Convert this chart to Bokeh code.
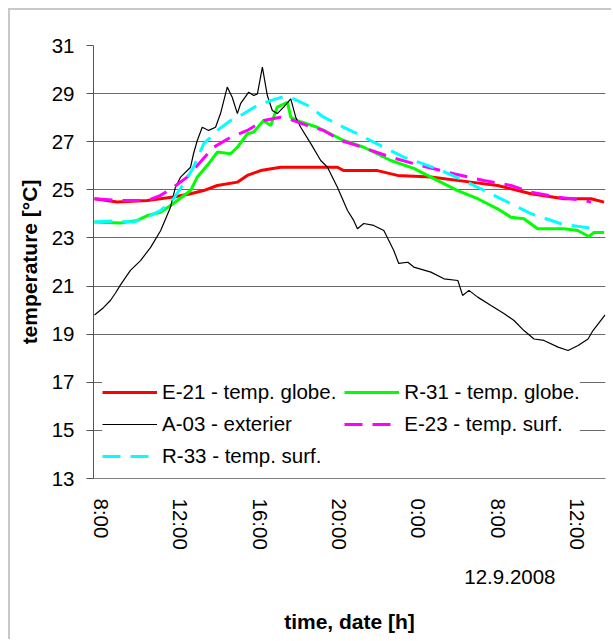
from bokeh.plotting import figure
from bokeh.models import (FixedTicker, Legend, LegendItem, Title, Range1d)
from bokeh.embed import file_html
from bokeh.resources import INLINE

# ---- data (hours since first tick "8:00") ----
tick_pos = [0, 4, 8, 12, 16, 20, 24]
tick_labels = ["8:00", "12:00", "16:00", "20:00", "0:00", "8:00", "12:00"]
y_ticks = [13, 15, 17, 19, 21, 23, 25, 27, 29, 31]

e21_t = [-0.35, 0.79, 2.31, 3.63, 4.49, 5.15, 5.84, 6.85, 7.35, 8.02, 9.03, 11.89,
         12.21, 13.91, 14.92, 16.60, 18.62, 19.96, 21.64, 23.31, 24.67, 25.33]
e21_v = [24.63, 24.49, 24.56, 24.70, 24.84, 24.97, 25.18, 25.32, 25.60, 25.80, 25.94, 25.94,
         25.80, 25.80, 25.60, 25.53, 25.32, 25.18, 24.84, 24.63, 24.63, 24.49]

r31_t = [-0.35, 0.96, 1.80, 2.31, 2.98, 3.63, 4.49, 4.83, 5.33, 5.84, 6.51, 6.85, 7.35,
         7.67, 8.17, 8.53, 8.86, 9.37, 9.54, 9.87, 10.88, 12.21, 13.22, 14.58, 15.74,
         16.60, 17.95, 18.96, 19.96, 20.64, 21.29, 21.98, 23.31, 24.00, 24.57, 24.82, 25.33]
r31_v = [23.66, 23.62, 23.73, 23.93, 24.07, 24.43, 24.97, 25.53, 26.01, 26.57, 26.50, 26.77,
         27.33, 27.40, 27.88, 27.67, 28.44, 28.64, 28.02, 27.88, 27.60, 27.05, 26.77, 26.22,
         25.89, 25.53, 24.97, 24.63, 24.21, 23.86, 23.80, 23.38, 23.38, 23.31, 23.06, 23.23, 23.23]

a03_t = [-0.35, 0.10, 0.45, 0.70, 0.96, 1.46, 1.97, 2.47, 2.98, 3.48, 3.73, 3.99, 4.49,
         4.64, 4.83, 5.08, 5.40, 5.75, 6.00, 6.34, 6.59, 6.85, 7.01, 7.42, 7.67, 7.86,
         8.11, 8.36, 8.61, 8.86, 9.18, 9.54, 9.79, 10.04, 10.55, 11.05, 11.39, 11.89,
         12.40, 12.71, 12.90, 13.22, 13.72, 14.23, 14.73, 14.98, 15.44, 15.74, 16.60,
         17.26, 17.96, 18.20, 18.52, 18.96, 19.63, 20.28, 20.79, 21.29, 21.80, 22.30,
         23.01, 23.51, 24.02, 24.52, 24.77, 25.10, 25.38]
a03_v = [19.80, 20.10, 20.40, 20.70, 21.05, 21.65, 22.06, 22.60, 23.30, 24.28, 25.11, 25.53,
         25.94, 26.50, 27.05, 27.60, 27.47, 27.60, 28.17, 29.27, 28.85, 28.17, 28.58, 29.06,
         28.92, 28.99, 30.10, 28.92, 28.30, 28.17, 28.44, 28.78, 28.02, 27.60, 26.92, 26.22,
         25.94, 25.11, 24.14, 23.73, 23.38, 23.60, 23.52, 23.31, 22.48, 21.94, 21.99, 21.79,
         21.58, 21.30, 21.23, 20.61, 20.82, 20.54, 20.19, 19.86, 19.57, 19.15, 18.80, 18.74,
         18.46, 18.32, 18.53, 18.80, 19.15, 19.50, 19.80]

e23_t = [-0.35, 0.96, 2.31, 2.98, 3.63, 4.32, 4.83, 5.65, 6.51, 7.35, 8.17, 9.03, 9.69,
         10.38, 11.20, 12.06, 12.90, 14.58, 16.09, 17.76, 19.27, 20.64, 21.64, 22.99,
         24.32, 24.67]
e23_v = [24.63, 24.56, 24.56, 24.77, 25.11, 25.53, 26.01, 26.77, 27.19, 27.47, 27.88, 28.02,
         27.88, 27.67, 27.47, 27.05, 26.84, 26.36, 26.01, 25.67, 25.39, 25.18, 24.90, 24.70,
         24.56, 24.49]

r33_t = [-0.35, 0.45, 1.61, 2.31, 2.98, 3.63, 4.14, 4.64, 5.15, 5.84, 6.51, 7.16, 7.86,
         8.53, 9.18, 9.69, 10.38, 11.20, 12.21, 13.07, 13.72, 15.24, 16.94, 18.26, 19.96,
         21.64, 23.16, 24.82]
r33_v = [23.66, 23.70, 23.66, 23.86, 24.14, 24.63, 25.25, 25.94, 26.91, 27.47, 27.88, 28.16,
         28.51, 28.71, 28.88, 28.78, 28.51, 28.02, 27.60, 27.26, 26.98, 26.36, 25.87, 25.39,
         24.70, 24.01, 23.59, 23.38]

FONT = "Liberation Sans"

p = figure(width=603, height=631, output_backend="svg", toolbar_location=None,
           x_range=Range1d(-0.4, 25.4), y_range=Range1d(13, 31),
           min_border_left=83, min_border_right=8, min_border_top=35,
           min_border_bottom=163)
p.styles = {"margin-left": "8px", "margin-top": "8px",
            "border-left": "2px solid #c8c8c8", "border-top": "2px solid #c8c8c8"}
p.outline_line_color = None
p.background_fill_color = "white"
p.border_fill_color = "white"

# axes
p.xaxis.ticker = FixedTicker(ticks=tick_pos)
p.xaxis.major_label_overrides = {t: l for t, l in zip(tick_pos, tick_labels)}
p.xaxis.major_label_orientation = "vertical"
p.xaxis.major_tick_out = 0
p.xaxis.major_tick_in = 0
p.xaxis.minor_tick_out = 0
p.xaxis.minor_tick_in = 0
p.xaxis.major_label_standoff = 20
p.xaxis.axis_line_color = "#808080"

p.yaxis.ticker = FixedTicker(ticks=y_ticks)
p.yaxis.major_tick_out = 7
p.yaxis.major_tick_in = 0
p.yaxis.minor_tick_out = 0
p.yaxis.minor_tick_in = 0
p.yaxis.major_label_standoff = 12
p.yaxis.axis_label = "temperature [°C]"
p.yaxis.axis_label_standoff = 8
p.yaxis.axis_line_color = "#555555"
p.yaxis.major_tick_line_color = "#555555"

for ax in (p.xaxis, p.yaxis):
    ax.major_label_text_font = FONT
    ax.major_label_text_font_size = "20.5px"
    ax.major_label_text_color = "black"
    ax.axis_label_text_font = FONT
    ax.axis_label_text_font_size = "21px"
    ax.axis_label_text_font_style = "bold"
    ax.axis_label_text_color = "black"

p.xgrid.grid_line_color = None
p.ygrid.grid_line_color = "#6a6a6a"
p.ygrid.grid_line_width = 1

# series (Excel drawing order)
r_e21 = p.line(e21_t, e21_v, line_color="#FF0000", line_width=3)
r_r31 = p.line(r31_t, r31_v, line_color="#00FF00", line_width=3)
r_a03 = p.line(a03_t, a03_v, line_color="black", line_width=1.2)
r_e23 = p.line(e23_t, e23_v, line_color="#FF00FF", line_width=3, line_dash="18 10")
r_r33 = p.line(r33_t, r33_v, line_color="#00FFFF", line_width=3, line_dash="18 10")

legend = Legend(items=[
    LegendItem(label="E-21 - temp. globe.", renderers=[r_e21]),
    LegendItem(label="A-03 - exterier", renderers=[r_a03]),
    LegendItem(label="R-33 - temp. surf.", renderers=[r_r33]),
    LegendItem(label="R-31 - temp. globe.", renderers=[r_r31]),
    LegendItem(label="E-23 - temp. surf.", renderers=[r_e23]),
], ncols=2, location=(9, 10))
legend.label_text_font = FONT
legend.label_text_font_size = "20.5px"
legend.label_text_color = "black"
legend.glyph_width = 55
legend.glyph_height = 20
legend.label_standoff = 5
legend.spacing = 8
legend.padding = 5
legend.margin = 0
legend.border_line_color = None
legend.background_fill_color = "white"
legend.background_fill_alpha = 1.0
p.add_layout(legend)

# date line and axis title below the tick labels
date_title = Title(text="12.9.2008", align="right", offset=50, standoff=31,
                   text_font=FONT, text_font_size="20.5px", text_font_style="normal",
                   text_color="black")
p.add_layout(date_title, "below")
x_title = Title(text="time, date [h]", align="center", standoff=16,
                text_font=FONT, text_font_size="21px", text_font_style="bold",
                text_color="black")
p.add_layout(x_title, "below")

open("out.html", "w").write(file_html(p, INLINE))
